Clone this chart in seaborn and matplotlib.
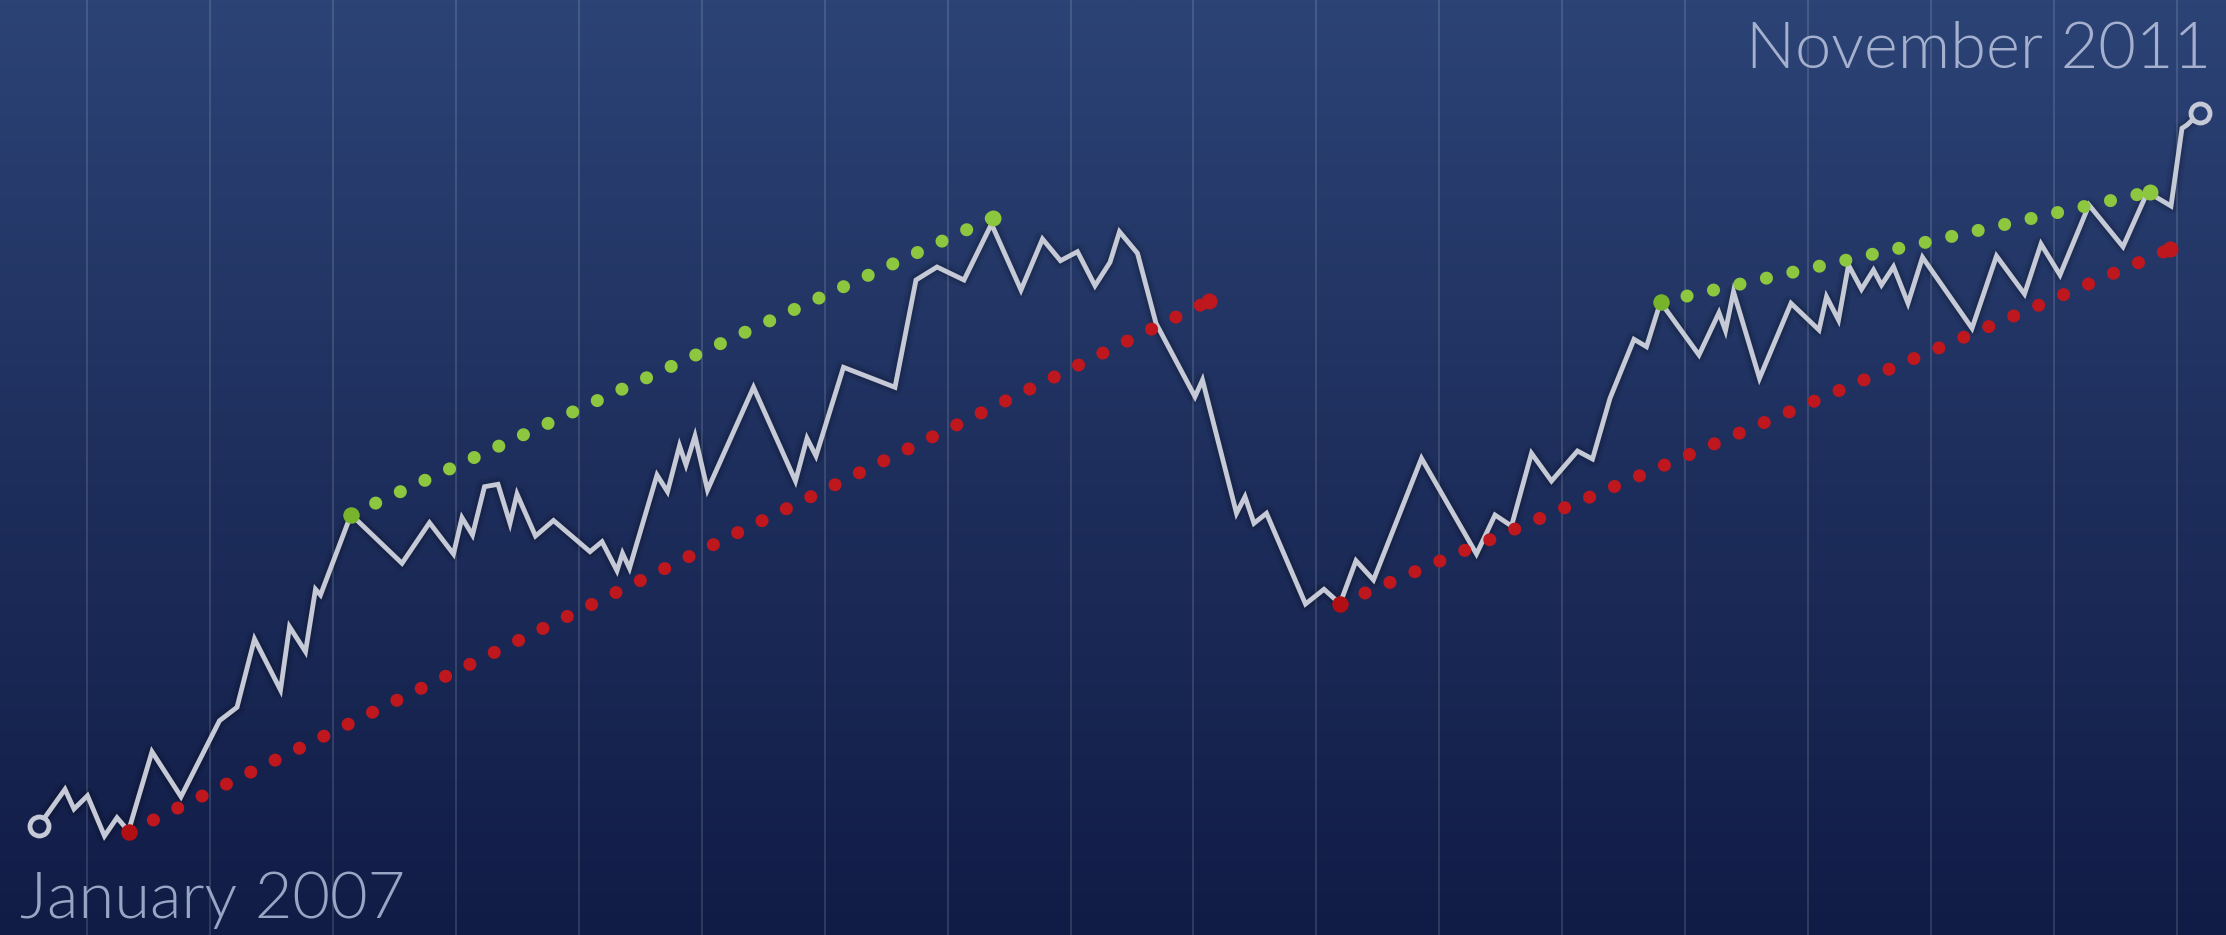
import numpy as np
import pandas as pd
import matplotlib
matplotlib.use("Agg")
import matplotlib.pyplot as plt
from matplotlib.colors import LinearSegmentedColormap
from matplotlib import font_manager
import seaborn as sns

# ---------------- data ----------------
t_pos = [39, 65, 74, 87.5, 104.5, 117, 128.5, 152, 181, 219.5, 237, 254.5, 280.5, 289.5,
         305.5, 315.5, 320.5, 351, 402, 429.5, 453.5, 462, 472.5, 484.5, 498, 510, 517,
         535.5, 553.5, 590, 602, 617, 622.5, 629.5, 657, 667.5, 679.5, 686, 695, 707.5,
         753.5, 795.5, 807, 816, 843.5, 895, 916, 937, 964, 991.5, 1021, 1042.5, 1060.5,
         1077.5, 1095, 1110, 1119.5, 1137.5, 1156, 1195, 1202.5, 1236.5, 1245, 1254,
         1266.5, 1305.5, 1324, 1340, 1356, 1373.5, 1421.5, 1476.5, 1495, 1511.5, 1531.5,
         1551.5, 1577.5, 1592.5, 1610, 1634, 1646.5, 1660.5, 1699, 1719, 1725.5, 1733.5,
         1759.5, 1791, 1819, 1826.5, 1838.5, 1848.5, 1861.5, 1873.5, 1881.5, 1893.5, 1908,
         1922.5, 1972, 1996.5, 2024.5, 2041, 2060, 2089, 2123, 2147.5, 2171, 2182, 2187,
         2199.5]
level = [825.7, 789.3, 809, 795.7, 836, 817.7, 831, 751.7, 796.7, 720.7, 707.3, 639, 690,
         626.7, 651.7, 589.3, 595, 514.5, 563.3, 522.7, 554, 517.7, 535, 486.7, 484.3,
         523.3, 494, 536, 520.5, 551.7, 541.7, 570.7, 553.3, 568.3, 475, 491.7, 445.7,
         465, 436, 490, 387.3, 481, 438.3, 456, 367.3, 387.3, 280, 267, 280, 224, 290,
         239, 260.7, 251.7, 285.7, 262.3, 231.7, 253.3, 323.3, 396.7, 380, 513.3, 496.7,
         523.3, 513.3, 604, 589.3, 603.7, 560.7, 580, 458.3, 554, 515, 526, 453.3, 481,
         451, 459, 398.3, 339.3, 346.7, 302, 355, 312.7, 330.7, 291.7, 378.3, 303.3, 330,
         296.7, 320, 265, 289.3, 270, 285, 266.7, 303.3, 257.3, 328.3, 256, 294, 244, 275,
         205, 246.7, 192, 206, 128.3, 125, 113.3]

# trend channels: start / end of each dotted line
green_t = [[351, 992.7], [1660.5, 2150]]
green_v = [[514.5, 217.7], [302, 191.7]]
red_t = [[129, 1209.3], [1340, 2169.7]]
red_v = [[832, 300.7], [603.7, 249.3]]

start_label = "January 2007"
end_label = "November 2011"

# ---------------- styling ----------------
W, H = 2226, 935
PX = 0.72  # points per pixel at dpi 100
TOP = np.array([44, 67, 118]) / 255
BOT = np.array([17, 28, 70]) / 255
LINE_C = "#c6cad7"
GREEN_C = "#8dc63f"
GREEN_D = "#77b42b"
RED_C = "#bf171e"
RED_D = "#b20f15"
TEXT_C = "#98a5c4"

sns.set_theme(style="white")

fig = plt.figure(figsize=(W / 100, H / 100), dpi=100)
ax = fig.add_axes([0, 0, 1, 1])
ax.set_xlim(0, W)
ax.set_ylim(H, 0)

# background gradient
cmap = LinearSegmentedColormap.from_list("bg", [TOP, (TOP + BOT) / 2 * 0.95 + BOT * 0.05, BOT])
grad = np.linspace(0, 1, 512).reshape(-1, 1)
ax.imshow(grad, cmap=cmap, extent=[0, W, H, 0], aspect="auto", zorder=0)

def bg_at(frac):
    return tuple(cmap(frac)[:3])

# vertical grid lines
grid_x = np.arange(87, W, 122.94)
ax.set_xticks(grid_x)
ax.grid(axis="x", color="white", alpha=0.13, linewidth=2 * PX, zorder=1)
ax.set_axisbelow(False)
ax.tick_params(length=0, labelbottom=False, labelleft=False)
ax.set_yticks([])
for s in ax.spines.values():
    s.set_visible(False)

df = pd.DataFrame({"t": t_pos, "v": level})

# soft shadow under the main line
for lw, a in [(16, 0.07), (10, 0.10)]:
    sns.lineplot(data=df, x="t", y="v", sort=False, estimator=None, ax=ax,
                 color="black", alpha=a, linewidth=lw * PX, zorder=2)
sns.lineplot(data=df, x="t", y="v", sort=False, estimator=None, ax=ax,
             color=LINE_C, linewidth=4.8 * PX, zorder=4)
ax.lines[-1].set_solid_joinstyle("miter")

# dotted trend lines
DOT = 13
def dotted(ts, vs, color, start_color):
    for tt, vv in zip(ts, vs):
        d = pd.DataFrame({"t": tt, "v": vv})
        sns.lineplot(data=d, x="t", y="v", sort=False, estimator=None, ax=ax,
                     color=color, linewidth=DOT * PX, zorder=5)
        ln = ax.lines[-1]
        ln.set_linestyle((0, (0.01, 27.0 / DOT)))
        ln.set_dash_capstyle("round")
        sns.scatterplot(x=[tt[0]], y=[vv[0]], ax=ax, color=start_color, s=(16.5 * PX) ** 2,
                        linewidth=0, zorder=6)
        sns.scatterplot(x=[tt[1]], y=[vv[1]], ax=ax, color=color, s=(16 * PX) ** 2,
                        linewidth=0, zorder=6)

dotted(green_t, green_v, GREEN_C, GREEN_D)
dotted(red_t, red_v, RED_C, RED_D)

# end circles
for t0, v0 in [(t_pos[0], level[0]), (t_pos[-1], level[-1])]:
    ax.plot([t0], [v0], marker="o", markersize=19 * PX, markeredgewidth=4.8 * PX,
            markeredgecolor=LINE_C, markerfacecolor=bg_at(v0 / H), zorder=7)

ax.get_legend() and ax.get_legend().remove()
ax.set_xlabel("")
ax.set_ylabel("")

# font
fp = None
for fam in ["Lato", "Open Sans", "Roboto", "Inter"]:
    for f in font_manager.fontManager.ttflist:
        if f.name == fam and f.weight in (300, "light") and f.style == "normal":
            fp = font_manager.FontProperties(fname=f.fname)
            break
    if fp is not None:
        break
if fp is None:
    fp = font_manager.FontProperties(family="Lato", weight="light")
fp.set_size(65 * PX)

ax.text(20 / W, 1 - 918 / H, start_label, transform=ax.transAxes, ha="left",
        va="baseline", color=TEXT_C, fontproperties=fp, zorder=8)
ax.text(2211 / W, 1 - 67 / H, end_label, transform=ax.transAxes, ha="right",
        va="baseline", color="#a4b0cd", fontproperties=fp, zorder=8)

fig.savefig("out.png", dpi=100)
